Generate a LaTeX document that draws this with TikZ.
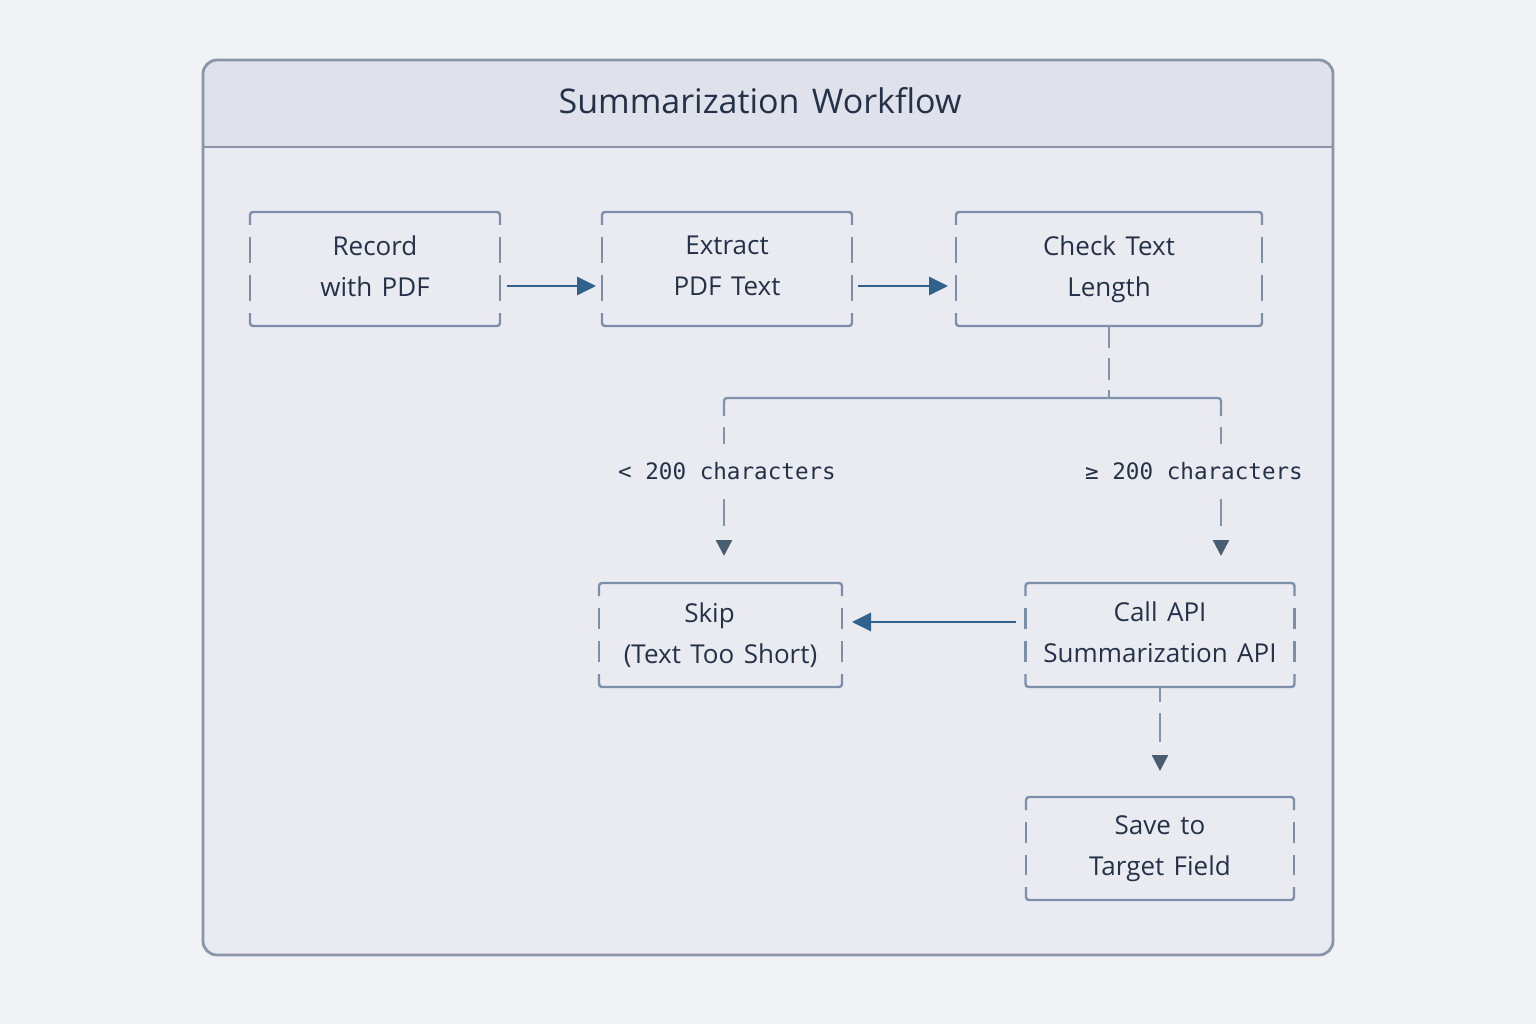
\documentclass[tikz,border=0pt]{standalone}
\usepackage{fontspec}
\setmainfont{Open Sans}[WordSpace=1.4]
\newfontfamily\monof{DejaVu Sans Mono}
\usetikzlibrary{arrows.meta}
\definecolor{bgcol}{HTML}{F1F2F4}
\definecolor{bodycol}{HTML}{EAEBF0}
\definecolor{headcol}{HTML}{DFE2EB}
\definecolor{framecol}{HTML}{8A95AB}
\definecolor{boxcol}{HTML}{7B8FAA}
\definecolor{txtcol}{HTML}{243249}
\definecolor{arrcol}{HTML}{30618C}
\definecolor{tipcol}{HTML}{4A5E72}
\definecolor{concol}{HTML}{7D93AE}
\tikzset{
  stepbox/.style={inner sep=0pt, outer sep=0pt, align=center, text=txtcol, font=\fontsize{26}{41}\selectfont},
  boxline/.style={draw=boxcol, line width=2.4pt},
  con/.style={draw=concol, line width=2.4pt},
  flowarrow/.style={draw=arrcol, line width=2.8pt, -{Triangle[length=19pt,width=18pt]}},
  downtip/.style={-{Triangle[length=16pt,width=16pt,color=tipcol]}},
  condlabel/.style={font=\monof\fontsize{22.6}{26}\selectfont, text=txtcol, inner sep=0pt},
}
\newcommand\myframebox[1]{%
  \draw[boxline, rounded corners=3pt] ([yshift=-13pt]#1.north west) -- (#1.north west) -- (#1.north east) -- ([yshift=-13pt]#1.north east);
  \draw[boxline, rounded corners=3pt] ([yshift=13pt]#1.south west) -- (#1.south west) -- (#1.south east) -- ([yshift=13pt]#1.south east);
  \draw[boxline] ([yshift=-25pt]#1.north west) -- ([yshift=6pt]#1.west);
  \draw[boxline] ([yshift=-6pt]#1.west) -- ([yshift=25pt]#1.south west);
  \draw[boxline] ([yshift=-25pt]#1.north east) -- ([yshift=6pt]#1.east);
  \draw[boxline] ([yshift=-6pt]#1.east) -- ([yshift=25pt]#1.south east);
}
\begin{document}
\begin{tikzpicture}[x=1pt,y=-1pt]
\fill[bgcol] (0,0) rectangle (1536,1024);
\useasboundingbox (0,0) rectangle (1536,1024);
% frame
\begin{scope}
  \clip[rounded corners=14pt] (203,60) rectangle (1333,955);
  \fill[bodycol] (203,60) rectangle (1333,955);
  \fill[headcol] (203,60) rectangle (1333,147);
\end{scope}
\draw[framecol, line width=2.8pt] (203,147) -- (1333,147);
\draw[framecol, line width=2.8pt, rounded corners=14pt] (203,60) rectangle (1333,955);
\node[text=txtcol, font=\fontsize{34}{40}\selectfont] (title) at (760,101) {Summarization Workflow};

% boxes
\node[stepbox, minimum width=250pt, minimum height=114pt] (record) at (375,269) {Record\\with PDF\vphantom{g}};
\node[stepbox, minimum width=250pt, minimum height=114pt] (extract) at (727,269) {Extract\\PDF Text\vphantom{g}};
\node[stepbox, minimum width=306pt, minimum height=114pt] (check) at (1109,269) {Check Text\\Length};
\node[stepbox, minimum width=243pt, minimum height=104pt] (skip) at (720.5,635) {\hspace*{-22pt}Skip\\(Text Too Short)};
\node[stepbox, minimum width=269pt, minimum height=104pt] (callapi) at (1160,635) {Call API\\Summarization API\vphantom{g}};
\node[stepbox, minimum width=268pt, minimum height=103pt] (save) at (1160,848.5) {Save to\\Target Field};
\myframebox{record}
\myframebox{extract}
\myframebox{check}
\myframebox{skip}
\myframebox{callapi}
\myframebox{save}

% labels
\node[condlabel] (lt) at (727,471) {< 200 characters};
\node[condlabel] (rt) at (1194,471) {≥ 200 characters};

% connectors
\draw[flowarrow, shorten <=7pt, shorten >=6pt] ([yshift=-17pt]record.east) -- ([yshift=-17pt]extract.west);
\draw[flowarrow, shorten <=6pt, shorten >=8pt] ([yshift=-17pt]extract.east) -- ([yshift=-17pt]check.west);
\draw[flowarrow, shorten <=10pt, shorten >=10pt] ([yshift=13pt]callapi.west) -- ([yshift=13pt]skip.east);

\coordinate (splitpt) at (1109,398);
\coordinate (lbtop) at (724,416);
\coordinate (rbtop) at (1221,416);
\draw[con, dash pattern=on 22pt off 10pt] (check.south) -- (splitpt);
\draw[con, rounded corners=3pt] (lbtop) |- (splitpt) -| (rbtop);
\draw[con, downtip, dash pattern=on 0pt off 11pt on 17pt off 55pt on 27pt off 200pt, shorten >=27pt] (lbtop) -- (skip.north -| lbtop);
\draw[con, downtip, dash pattern=on 0pt off 11pt on 17pt off 55pt on 27pt off 200pt, shorten >=27pt] (rbtop) -- (callapi.north -| rbtop);
\draw[con, downtip, dash pattern=on 15pt off 11pt on 29pt off 200pt, shorten >=26pt] (callapi.south) -- (save.north);
\end{tikzpicture}
\end{document}
